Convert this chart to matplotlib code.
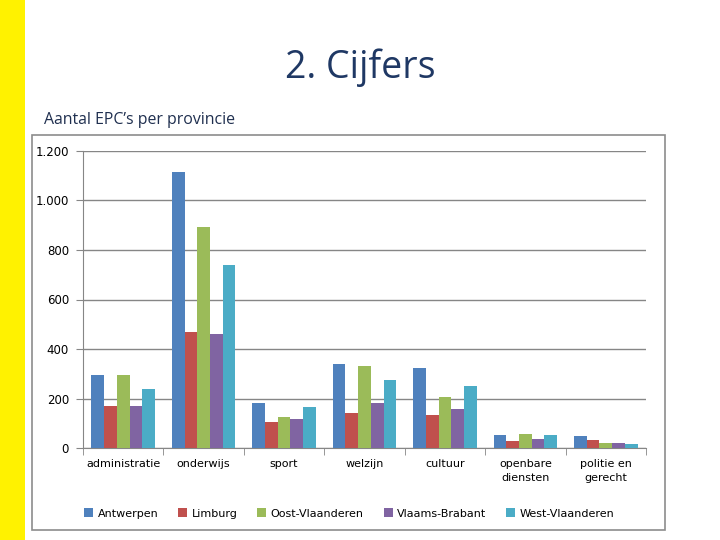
import matplotlib.pyplot as plt
import numpy as np
from matplotlib.patches import Rectangle
from matplotlib.ticker import FuncFormatter

categories = ["administratie", "onderwijs", "sport", "welzijn", "cultuur",
              "openbare\ndiensten", "politie en\ngerecht"]
provinces = ["Antwerpen", "Limburg", "Oost-Vlaanderen", "Vlaams-Brabant", "West-Vlaanderen"]
antwerpen = [294, 1117, 183, 340, 324, 53, 49]
limburg = [169, 469, 106, 142, 134, 28, 32]
oost_vlaanderen = [294, 892, 126, 332, 207, 57, 20]
vlaams_brabant = [169, 461, 118, 182, 158, 36, 20]
west_vlaanderen = [239, 739, 167, 276, 251, 53, 16]
series = [antwerpen, limburg, oost_vlaanderen, vlaams_brabant, west_vlaanderen]
colors = ["#4F81BD", "#C0504D", "#9BBB59", "#8064A2", "#4BACC6"]

fig = plt.figure(figsize=(7.2, 5.4), dpi=100)

# yellow strip on the left of the slide
fig.patches.append(Rectangle((0, 0), 25 / 720, 1, transform=fig.transFigure,
                             facecolor="#FFF200", edgecolor="none"))
# chart frame
fig.patches.append(Rectangle((32 / 720, 10 / 540), 633 / 720, 395 / 540,
                             transform=fig.transFigure, facecolor="none",
                             edgecolor="#8C8C8C", linewidth=1.2))

fig.text(360 / 720, 1 - 68 / 540, "2. Cijfers", ha="center", va="center",
         fontsize=27, color="#1F3864", family="Open Sans")
fig.text(44 / 720, 1 - 120 / 540, "Aantal EPC\u2019s per provincie", ha="left",
         va="center", fontsize=11.4, color="#1F2F4F", family="Open Sans")

ax = fig.add_axes([83 / 720, 1 - 448 / 540, 563 / 720, 297 / 540])
x = np.arange(len(categories))
width = 0.158
for i, (vals, name, c) in enumerate(zip(series, provinces, colors)):
    ax.bar(x + (i - 2) * width, vals, width, color=c, label=name, zorder=3)

ax.set_xlim(-0.5, len(categories) - 0.5)
ax.set_ylim(0, 1200)
ax.set_yticks(range(0, 1201, 200))
ax.yaxis.set_major_formatter(FuncFormatter(lambda v, p: f"{int(v):,}".replace(",", ".")))
ax.grid(axis="y", color="#868686", linewidth=1, zorder=0)
ax.set_xticks(x)
ax.set_xticklabels(categories, fontsize=8, linespacing=1.5)
ax.set_xticks(np.arange(-0.5, len(categories), 1), minor=True)
ax.tick_params(axis="x", which="major", length=0, pad=8)
ax.tick_params(axis="x", which="minor", length=5, color="#868686")
ax.tick_params(axis="y", labelsize=8.5, length=5, color="#868686", pad=5)
for s in ["top", "right"]:
    ax.spines[s].set_visible(False)
for s in ["left", "bottom"]:
    ax.spines[s].set_color("#868686")

ax.legend(loc="upper center", bbox_to_anchor=(0.473, -0.17), ncol=5, frameon=False,
          fontsize=8, handlelength=0.8, handleheight=0.8, handletextpad=0.4,
          columnspacing=1.8)

fig.savefig("out.png", dpi=100)
